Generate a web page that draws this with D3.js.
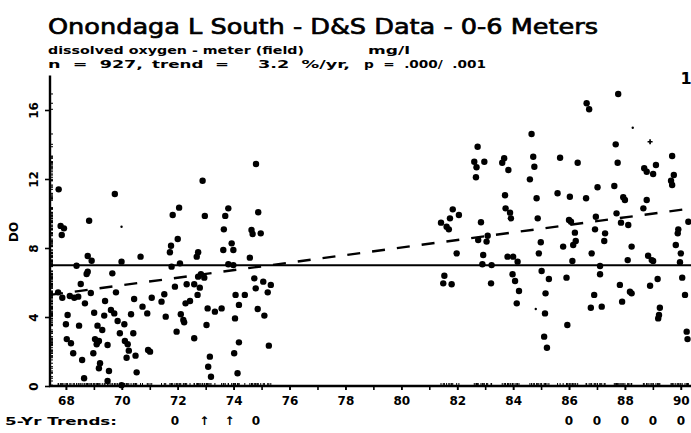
<!DOCTYPE html>
<html><head><meta charset="utf-8">
<script src="https://cdn.jsdelivr.net/npm/d3@7"></script>
<style>body{margin:0;background:#fff}svg{display:block}</style>
</head><body>
<svg id="chart" width="691" height="433"></svg>
<script>
// ---- data ----
const obsYear = [
 67.74,67.81,67.93,67.85,68.83,69.75,68.78,68.92,69.99,70.67,68.38,68.78,68.74,69.66,68.53,67.72,67.87,68.14,68.30,68.44,
 68.68,68.89,69.40,69.79,70.44,71.07,71.42,71.52,68.06,68.00,68.47,69.01,69.37,69.61,69.73,69.85,70.33,70.09,69.13,69.30,
 68.03,68.18,69.04,69.13,69.18,69.10,69.49,69.93,70.41,70.11,70.21,70.94,71.01,68.26,68.98,70.25,70.17,70.49,68.58,69.22,
 69.18,69.54,70.53,68.65,69.49,69.99,70.74,70.91,
 72.00,71.76,71.72,72.73,72.68,73.63,73.93,73.99,74.58,71.78,72.08,73.81,73.99,72.83,72.95,72.73,71.90,72.32,72.59,72.79,
 72.71,74.07,74.40,74.74,74.79,75.06,75.33,75.22,72.28,72.44,74.19,73.07,73.33,73.57,74.86,75.10,72.11,72.20,72.23,71.57,
 74.05,73.03,71.96,72.59,74.19,75.26,74.02,73.15,73.09,73.19,74.14,72.89,72.05,71.82,72.97,73.70,73.81,73.65,74.80,74.88,
 74.64,74.97,74.68,
 84.66,82.73,82.61,82.69,82.97,83.68,83.61,83.83,84.72,84.76,84.60,82.67,85.68,83.71,84.84,85.59,81.84,82.06,81.74,81.42,
 81.62,81.70,83.73,83.89,83.92,82.85,84.88,87.76,86.63,86.72,87.67,86.31,87.74,88.69,88.78,89.01,89.11,89.69,89.75,89.65,
 89.69,87.02,87.62,86.03,86.61,87.94,88.00,88.78,88.66,87.70,86.96,86.00,86.07,87.86,88.12,90.27,89.91,89.89,86.21,86.93,
 87.29,81.98,82.93,82.90,83.23,83.80,84.00,84.16,84.99,84.92,82.75,83.05,83.09,81.54,81.50,81.80,83.21,83.98,84.07,84.21,
 84.13,85.02,85.28,85.16,85.14,85.11,85.21,85.79,86.15,86.24,87.26,88.24,86.81,86.12,88.10,88.83,88.96,89.01,89.82,90.00,
 89.97,85.91,87.11,90.05,87.82,88.90,89.17,88.18,88.24,86.90,90.15,86.78,87.17,87.90,89.25,89.22,89.19,85.94,90.21,90.24,
 87.11
];
const obsDO = [
 11.40,9.28,9.14,8.75,9.58,11.13,7.54,7.26,7.21,7.50,6.97,6.63,6.49,6.53,5.91,5.43,5.12,5.22,5.12,5.18,
 4.79,5.39,4.93,5.43,5.04,5.12,4.89,5.32,4.12,3.58,3.50,4.25,4.08,4.41,4.21,3.77,4.16,3.58,3.50,3.25,
 2.72,2.48,2.72,2.53,2.61,2.42,2.38,3.06,3.06,2.61,2.42,2.09,1.99,1.90,1.90,2.05,1.64,1.76,1.51,1.32,
 1.03,0.87,0.79,0.45,0.29,0.05,4.60,4.21,
 8.52,8.13,7.75,7.75,7.50,7.88,8.27,7.88,7.44,6.92,7.11,7.06,7.01,6.48,6.28,6.34,5.76,5.90,5.90,5.70,
 5.28,5.28,5.28,6.24,5.66,6.05,5.86,5.43,4.79,4.93,4.70,4.50,4.31,4.50,4.46,4.08,4.16,3.83,3.69,4.02,
 3.92,3.54,3.15,2.77,2.53,2.34,1.90,1.70,1.12,0.54,0.74,11.90,10.34,9.91,9.86,9.86,10.30,9.08,12.87,10.07,
 9.04,8.85,8.81,
 14.61,13.87,13.00,12.68,13.00,13.20,12.94,12.52,13.29,12.71,11.98,12.10,13.23,11.06,10.88,11.17,10.24,9.91,9.72,9.47,
 9.23,9.08,10.30,10.05,9.72,9.49,9.72,16.93,16.39,16.04,14.01,12.94,12.94,12.62,12.42,12.29,12.81,13.33,12.23,11.90,
 11.65,11.52,11.59,10.97,10.88,10.94,10.78,10.78,10.30,10.01,9.81,9.62,9.52,9.47,9.33,9.52,9.08,8.85,8.89,9.08,
 8.85,7.69,7.59,7.06,7.01,7.50,7.50,7.21,8.33,7.69,8.46,8.37,8.71,6.39,5.95,5.90,5.95,6.48,6.09,5.51,
 4.79,6.67,6.20,5.37,4.21,2.86,2.22,8.08,8.17,8.41,8.41,8.08,7.69,7.25,7.30,7.55,7.30,7.25,8.17,7.69,
 7.17,6.28,6.48,6.28,5.86,5.81,6.20,5.47,5.37,5.28,5.28,4.54,4.60,4.89,4.54,4.12,3.92,3.54,3.15,2.72,
 6.96
];
const smallDotYear = [69.99, 88.28, 84.81];
const smallDotDO   = [9.23, 14.97, 4.46];
const plusYear = [88.90];
const plusDO   = [14.16];

const medianDO = 7.0;
const trendYears = [67.43, 90.4];
const trendDO    = [5.28, 10.3];

const xTickYears = [68,70,72,74,76,78,80,82,84,86,88,90];
const xMinorYears = d3.range(68, 91, 1);
const yTickValues = [0,4,8,12,16];

const fiveYrYears  = [71.9, 72.95, 73.85, 74.8, 86, 87, 88, 89, 90];
const fiveYrLabels = ["0","↑","↑","0","0","0","0","0","0"];

const titleText = "Onondaga L South - D&S Data - 0-6 Meters";
const subtitle1 = ["dissolved oxygen - meter (field)", "mg/l"];
const subtitle2 = ["n  =  927,", "trend  =", "3.2  %/yr,", "p  =  .000/  .001"];

// ---- drawing ----
const svg = d3.select("#chart");
const FONT = "'DejaVu Sans', Verdana, sans-serif";
const x = d3.scaleLinear().domain([67.43, 90.4]).range([50, 692]);
const y = d3.scaleLinear().domain([0, 18]).range([386, 75.5]);

svg.append("rect").attr("width",691).attr("height",433).attr("fill","#fff");

// title block
svg.append("text").attr("x",48).attr("y",34).attr("font-family",FONT).attr("font-size",22)
  .attr("font-weight","normal").attr("stroke","#000").attr("stroke-width",0.7)
  .attr("textLength",550).attr("lengthAdjust","spacingAndGlyphs").text(titleText);
const s1x = [48, 368], s1w = [256, 42];
subtitle1.forEach((t,i)=>svg.append("text").attr("x",s1x[i]).attr("y",54).attr("font-family",FONT)
  .attr("font-size",11).attr("font-weight","bold").attr("textLength",s1w[i]).attr("lengthAdjust","spacingAndGlyphs").text(t));
const s2x = [48,152,258,364], s2w = [95,77,92,122];
subtitle2.forEach((t,i)=>svg.append("text").attr("x",s2x[i]).attr("y",68).attr("font-family",FONT)
  .style("white-space","pre").attr("xml:space","preserve")
  .attr("font-size",11).attr("font-weight","bold").attr("textLength",s2w[i]).attr("lengthAdjust","spacingAndGlyphs").text(t));
svg.append("text").attr("x",686).attr("y",84).attr("text-anchor","middle").attr("font-family",FONT)
  .attr("font-size",16).attr("font-weight","bold").text("1");

// rugs
const g = svg.append("g");
g.selectAll("line.ry").data(obsDO).join("line").attr("class","ry")
  .attr("x1",50).attr("x2",53).attr("y1",d=>y(d)).attr("y2",d=>y(d)).attr("stroke","#000").attr("stroke-width",1);
g.selectAll("line.rx").data(obsYear).join("line").attr("class","rx")
  .attr("y1",386).attr("y2",383).attr("x1",d=>x(d)).attr("x2",d=>x(d)).attr("stroke","#000").attr("stroke-width",1);

// median line
g.append("line").attr("x1",x(67.43)).attr("x2",x(90.4)).attr("y1",y(medianDO)).attr("y2",y(medianDO))
  .attr("stroke","#000").attr("stroke-width",2.2);
// trend line
g.append("line").attr("x1",x(trendYears[0])).attr("x2",x(trendYears[1])).attr("y1",y(trendDO[0])).attr("y2",y(trendDO[1]))
  .attr("stroke","#000").attr("stroke-width",2.4).attr("stroke-dasharray","13,12");

// points
g.selectAll("circle.pt").data(obsYear.map((v,i)=>[v,obsDO[i]])).join("circle").attr("class","pt")
  .attr("cx",d=>x(d[0])).attr("cy",d=>y(d[1])).attr("r",3.2).attr("fill","#000");
g.selectAll("circle.sm").data(smallDotYear.map((v,i)=>[v,smallDotDO[i]])).join("circle").attr("class","sm")
  .attr("cx",d=>x(d[0])).attr("cy",d=>y(d[1])).attr("r",1.2).attr("fill","#000");
g.selectAll("path.pl").data(plusYear.map((v,i)=>[v,plusDO[i]])).join("path").attr("class","pl")
  .attr("d",d3.symbol(d3.symbolCross,14)).attr("transform",d=>`translate(${x(d[0])},${y(d[1])})`).attr("fill","#000");

// axes
const xAxisMinor = d3.axisBottom(x).tickValues(xMinorYears).tickSize(4).tickFormat("");
const xg2 = svg.append("g").attr("transform","translate(0,386)").call(xAxisMinor);
xg2.select(".domain").remove();
xg2.selectAll("line").attr("stroke-width",1.6);
const xAxis = d3.axisBottom(x).tickValues(xTickYears).tickSize(4).tickPadding(6).tickFormat(d3.format("d"));
const xg = svg.append("g").attr("transform","translate(0,386)").call(xAxis);
xg.select(".domain").remove();
xg.selectAll("line").attr("stroke-width",1.6);
xg.selectAll("text").attr("font-family",FONT).attr("font-size",12).attr("font-weight","bold").attr("fill","#000");
svg.append("line").attr("x1",49).attr("x2",692).attr("y1",386).attr("y2",386).attr("stroke","#000").attr("stroke-width",2.4);

const yAxis = d3.axisLeft(y).tickValues(yTickValues).tickSize(5).tickPadding(5).tickFormat(d3.format("d"));
const yg = svg.append("g").attr("transform","translate(50,0)").call(yAxis);
yg.select(".domain").remove();
yg.selectAll("line").attr("stroke-width",1.6);
yg.selectAll("text").attr("font-family",FONT).attr("font-size",12).attr("font-weight","bold").attr("fill","#000")
  .attr("text-anchor","middle").attr("dy","0").attr("x",0)
  .attr("transform","translate(-16,0) rotate(-90)").attr("y",4);
svg.append("line").attr("x1",50).attr("x2",50).attr("y1",y(18)).attr("y2",387).attr("stroke","#000").attr("stroke-width",2.4);

svg.append("text").attr("transform","translate(18,232) rotate(-90)").attr("text-anchor","middle")
  .attr("font-family",FONT).attr("font-size",12).attr("font-weight","bold").text("DO");

// 5-yr trends row
svg.append("text").attr("x",5).attr("y",425).attr("font-family",FONT).attr("font-size",11).attr("font-weight","bold")
  .attr("textLength",112).attr("lengthAdjust","spacingAndGlyphs").text("5-Yr Trends:");
svg.selectAll("text.fy").data(fiveYrYears).join("text").attr("class","fy")
  .attr("x",d=>x(d)).attr("y",425).attr("text-anchor","middle").attr("font-family",FONT).attr("font-size",12)
  .attr("font-weight","bold").text((d,i)=>fiveYrLabels[i]);
</script>
</body></html>
